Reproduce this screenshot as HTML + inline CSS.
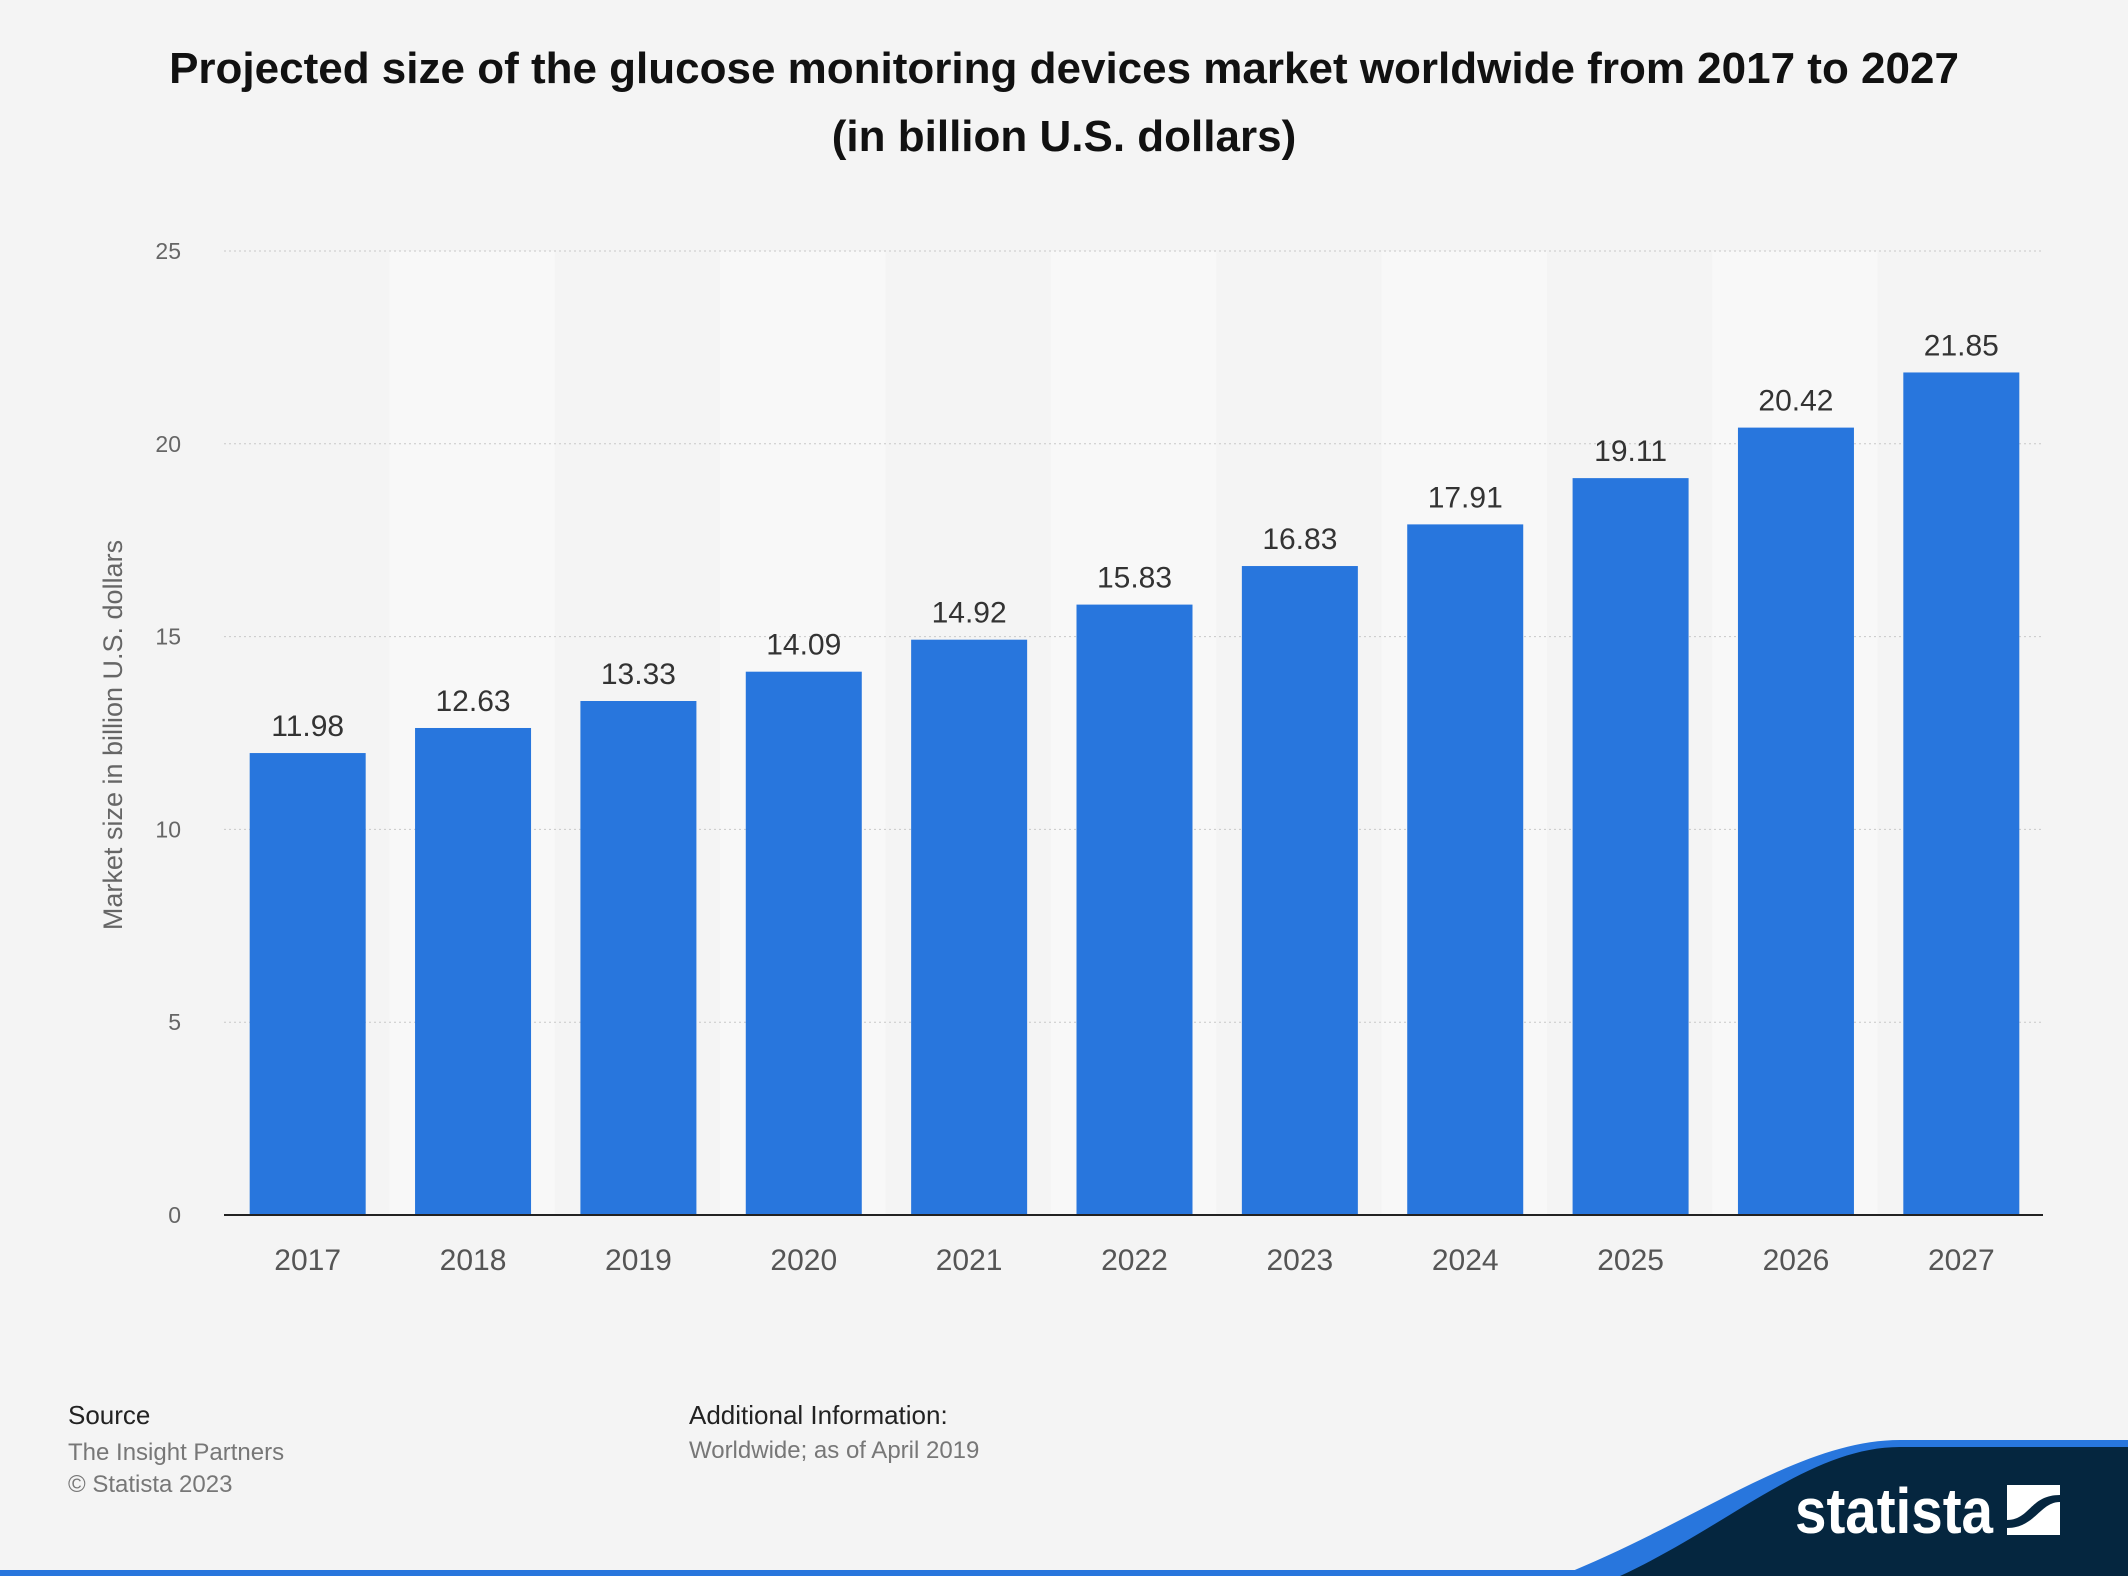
<!DOCTYPE html>
<html><head><meta charset="utf-8"><style>
body{margin:0;width:2128px;height:1576px;background:#f4f4f4;font-family:"Liberation Sans",Arial,sans-serif;overflow:hidden;position:relative}
.t{position:absolute;left:0;width:2128px;text-align:center;font-weight:bold;font-size:44px;color:#111}
</style></head><body>
<div class="t" style="top:44px">Projected size of the glucose monitoring devices market worldwide from 2017 to 2027</div>
<div class="t" style="top:112px">(in billion U.S. dollars)</div>
<svg id="c" width="2128" height="1576" style="position:absolute;left:0;top:0">
<text transform="translate(122,735) rotate(-90)" text-anchor="middle" font-size="27" fill="#666">Market size in billion U.S. dollars</text>
</svg>
<div style="position:absolute;left:68px;top:1400px;font-size:26px;color:#222">Source</div>
<div style="position:absolute;left:68px;top:1437px;font-size:24px;color:#777;line-height:32px">The Insight Partners<br>© Statista 2023</div>
<div style="position:absolute;left:689px;top:1400px;font-size:26px;color:#222">Additional Information:</div>
<div style="position:absolute;left:689px;top:1437px;font-size:24px;color:#777">Worldwide; as of April 2019</div>
<svg width="2128" height="1576" style="position:absolute;left:0;top:0">
<rect x="0" y="1570" width="2128" height="6" fill="#2876dd"/>
<path d="M1560,1576 C1700,1520 1800,1440 1900,1440 L2128,1440 L2128,1576 Z" fill="#2876dd"/>
<path d="M1620,1576 C1730,1525 1810,1447 1900,1447 L2128,1447 L2128,1576 Z" fill="#05263f"/>
<text x="1795" y="1533" font-size="64" font-weight="bold" fill="#fff" textLength="198" lengthAdjust="spacingAndGlyphs">statista</text>
<rect x="2007" y="1485" width="53" height="50" fill="#fff"/>
<path d="M2007,1520 C2030,1520 2030,1495 2060,1495 L2060,1502 C2040,1502 2035,1528 2007,1528 Z" fill="#05263f"/>
</svg>
<script>
const categories=["2017","2018","2019","2020","2021","2022","2023","2024","2025","2026","2027"];
const values=[11.98,12.63,13.33,14.09,14.92,15.83,16.83,17.91,19.11,20.42,21.85];
const labels=["11.98","12.63","13.33","14.09","14.92","15.83","16.83","17.91","19.11","20.42","21.85"];
const ticks=[0,5,10,15,20,25];
const svg=document.getElementById('c');const NS='http://www.w3.org/2000/svg';
const L=224,R=2043,T=251,B=1215,max=25;
const bw=(R-L)/categories.length;
const y=v=>B-(v/max)*(B-T);
const x=i=>L+bw*i;
function mk(t,a){const e=document.createElementNS(NS,t);for(const k in a)e.setAttribute(k,a[k]);svg.appendChild(e);return e;}
categories.forEach((c,i)=>{if(i%2==1){const b=mk('rect',{x:x(i),y:T,width:bw,height:B-T,fill:'#f8f8f8'});

}});
ticks.forEach(t=>{if(t>0){const g=mk('line',{x1:L,x2:R,y1:y(t),y2:y(t),stroke:'#c8c8c8','stroke-dasharray':'2,3'});

}
const tx=mk('text',{x:181,y:y(t)+8,'text-anchor':'end','font-size':23,fill:'#666'});tx.textContent=t;

});
categories.forEach((c,i)=>{const cx=x(i)+bw/2+1,w=116;
const r=mk('rect',{x:cx-w/2,y:y(values[i]),width:w,height:B-y(values[i]),fill:'#2876dd'});


const v=mk('text',{x:cx,y:y(values[i])-17,'text-anchor':'middle','font-size':30,fill:'#333'});v.textContent=labels[i];


const xl=mk('text',{x:cx,y:1270,'text-anchor':'middle','font-size':30,fill:'#555'});xl.textContent=c;

});
const ax=mk('line',{x1:L,x2:R,y1:B,y2:B,stroke:'#222','stroke-width':2});


</script>
</body></html>
